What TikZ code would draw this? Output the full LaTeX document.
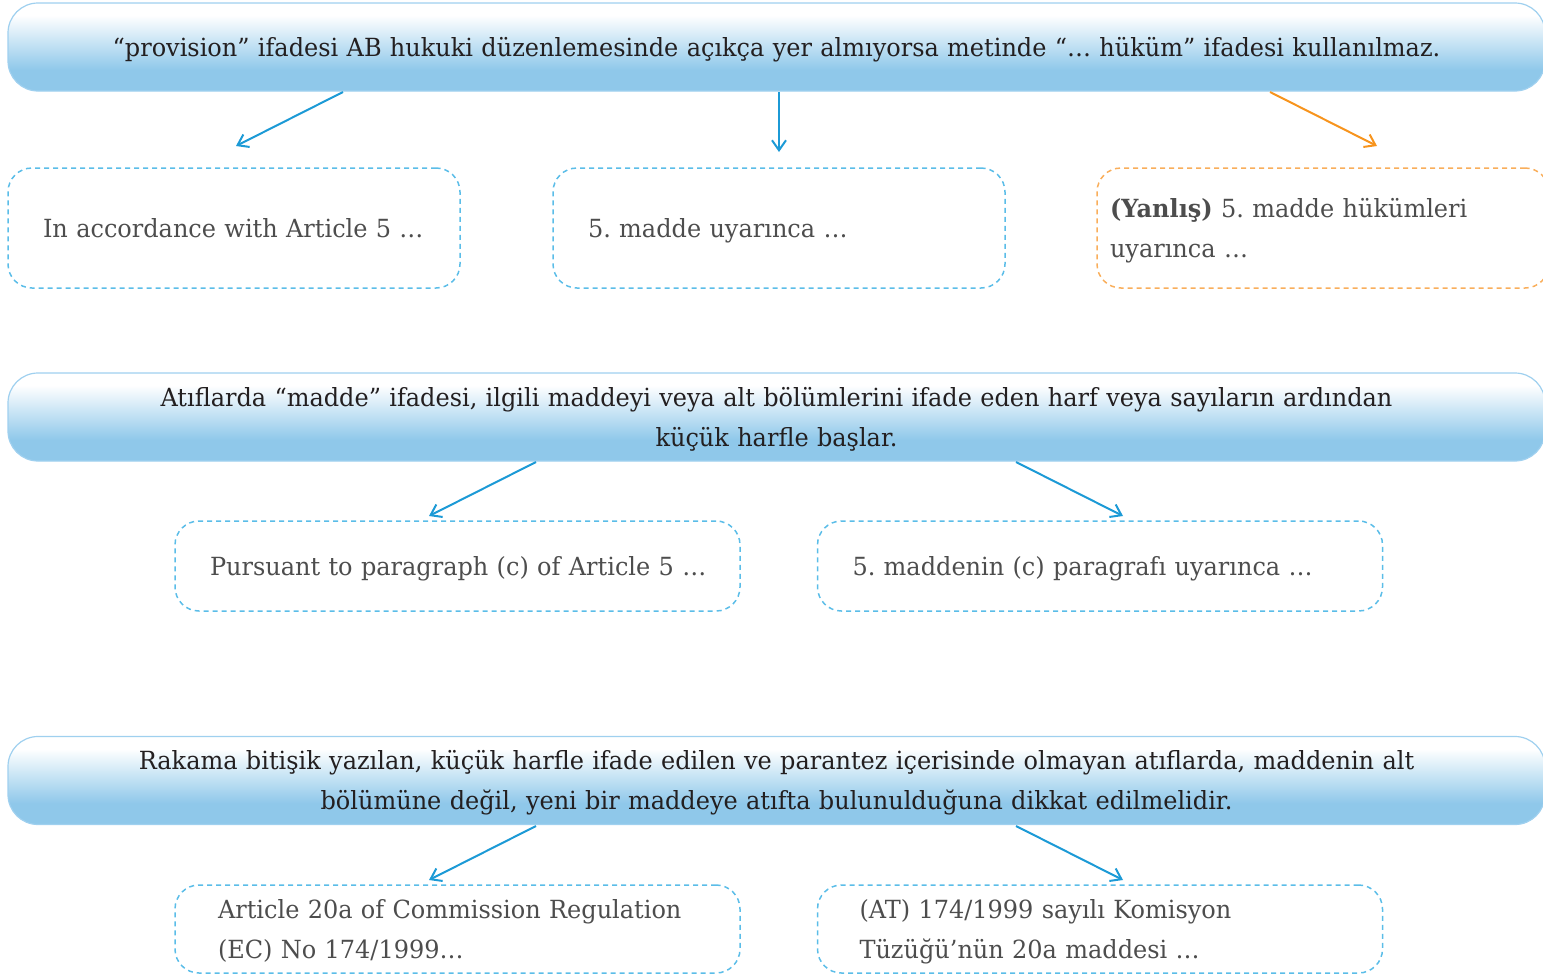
\documentclass[tikz,border=0pt]{standalone}
\usepackage{fontspec}
\setmainfont{DejaVu Serif}[FakeStretch=0.96]
\usetikzlibrary{arrows.meta}
\usetikzlibrary{positioning}
\definecolor{mblue}{HTML}{1C9AD6}
\definecolor{lblue}{HTML}{5BBDE8}
\definecolor{morange}{HTML}{F7941D}
\definecolor{lorange}{HTML}{F9AE5B}
\definecolor{bblue}{HTML}{8FC8EA}
\definecolor{bline}{HTML}{9FD0EF}
\definecolor{mgrey}{HTML}{4D4D4D}
\definecolor{mdark}{HTML}{231F20}
\pgfdeclareverticalshading{bannershade}{100bp}{color(0bp)=(bblue); color(37bp)=(bblue); color(68bp)=(white); color(100bp)=(white)}
\frenchspacing

\begin{document}
\begin{tikzpicture}[x=0.5pt, y=-0.5pt,
    font=\fontsize{12.5}{20}\selectfont,
    text height=10.5pt, text depth=1.5pt,
    twolines/.style={text depth=21.5pt},
    banner/.style={draw=bline, line width=0.6pt, rounded corners=15pt, shading=bannershade,
      minimum width=768.5pt, minimum height=44pt, text width=768.5pt, align=center, text=mdark, inner sep=0pt},
    note/.style={draw=lblue, line width=0.75pt, dash pattern=on 2.5pt off 2pt, rounded corners=12pt,
      align=left, text=mgrey, inner ysep=0pt},
    arr/.style={mblue, line width=1pt, -{Straight Barb[length=5pt, width=7pt]}}]
      \useasboundingbox (0, 0) rectangle (1543, 975);

      \node [banner] (b1) at (776.5, 47) {“provision” ifadesi AB hukuki düzenlemesinde açıkça yer almıyorsa metinde “… hüküm” ifadesi kullanılmaz.};
      \node [banner, twolines] (b2) at (776.5, 417) {Atıflarda “madde” ifadesi, ilgili maddeyi veya alt bölümlerini ifade eden harf veya sayıların ardından\\küçük harfle başlar.};
      \node [banner, twolines] (b3) at (776.5, 780.5) {Rakama bitişik yazılan, küçük harfle ifade edilen ve parantez içerisinde olmayan atıflarda, maddenin alt\\bölümüne değil, yeni bir maddeye atıfta bulunulduğuna dikkat edilmelidir.};

      \node [note, inner xsep=17.5pt, text width=191pt, minimum height=60pt] (n1) at (234, 228) {In accordance with Article 5 …};
      \node [note, inner xsep=17.5pt, text width=191pt, minimum height=60pt] (n2) at (779, 228) {5. madde uyarınca …};
      \node [note, twolines, draw=lorange, inner xsep=6.5pt, text width=213pt, minimum height=60pt] (n3) at (1323, 228) {\textbf{(Yanlış)} 5. madde hükümleri\\uyarınca …};

      \node [note, inner xsep=17.5pt, text width=247.5pt, minimum height=45pt] (m1) at (457.5, 566) {\mbox{Pursuant to paragraph (c) of Article 5 …}};
      \node [note, inner xsep=17.5pt, text width=247.5pt, minimum height=45pt] (m2) at (1100, 566) {5. maddenin (c) paragrafı uyarınca …};

      \node [note, twolines, inner xsep=21.5pt, text width=239.5pt, minimum height=44pt] (k1) at (457.5, 929) {Article 20a of Commission Regulation\\(EC) No 174/1999…};
      \node [note, twolines, inner xsep=21pt, text width=240.5pt, minimum height=44pt] (k2) at (1100, 929) {(AT) 174/1999 sayılı Komisyon\\Tüzüğü’nün 20a maddesi …};

      \coordinate (s1) at (343, 92);
      \coordinate (e1) at (236, 146);
      \coordinate (s2) at (779, 92);
      \coordinate (e2) at (779, 152);
      \coordinate (s3) at (1270, 92);
      \coordinate (e3) at (1377, 146);
      \draw [arr] (s1) -- (e1);
      \draw [arr] (s2) -- (e2);
      \draw [arr, morange] (s3) -- (e3);

      \coordinate (s4) at (536, 462);
      \coordinate (e4) at (429, 516);
      \coordinate (s5) at (1016, 462);
      \coordinate (e5) at (1123, 516);
      \draw [arr] (s4) -- (e4);
      \draw [arr] (s5) -- (e5);

      \coordinate (s6) at (536, 826);
      \coordinate (e6) at (429, 880);
      \coordinate (s7) at (1016, 826);
      \coordinate (e7) at (1123, 880);
      \draw [arr] (s6) -- (e6);
      \draw [arr] (s7) -- (e7);
    \end{tikzpicture}
\end{document}
